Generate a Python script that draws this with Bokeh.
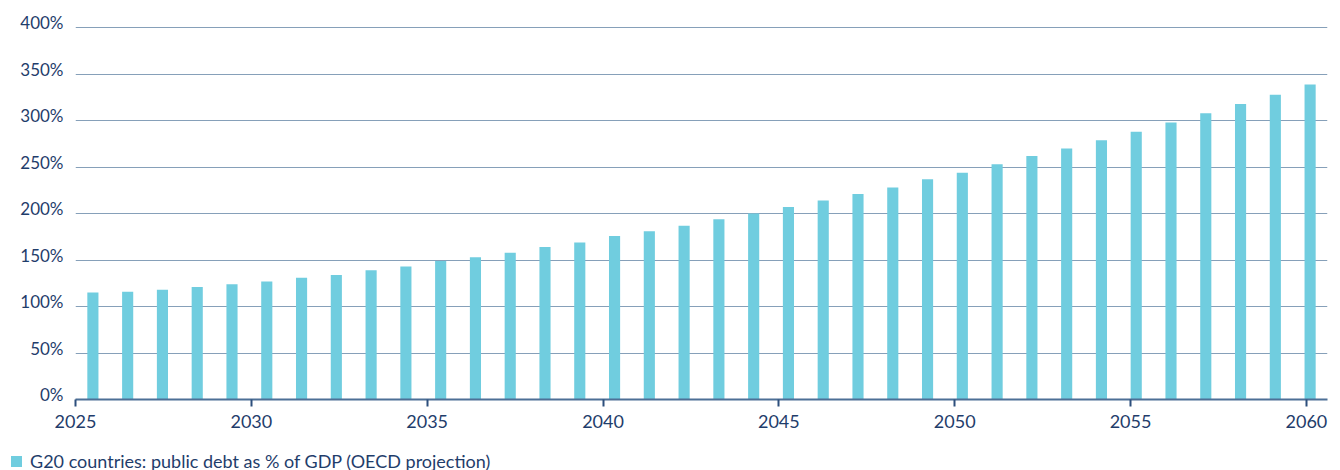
from bokeh.plotting import figure
from bokeh.layouts import column
from bokeh.models import (Range1d, LinearAxis, FixedTicker, Grid, Div,
                          PrintfTickFormatter, ColumnDataSource)
from bokeh.embed import file_html
from bokeh.resources import INLINE

years = list(range(2025, 2061))
debt = [115, 116, 118, 121, 124, 127, 131, 134, 139, 143, 149, 153, 158, 164, 169, 176,
        181, 187, 194, 200, 207, 214, 221, 228, 237, 244, 253, 262, 270, 279, 288, 298,
        308, 318, 328, 339]
y_ticks = [0, 50, 100, 150, 200, 250, 300, 350, 400]
x_ticks = [2025, 2030, 2035, 2040, 2045, 2050, 2055, 2060]
series_name = "G20 countries: public debt as % of GDP (OECD projection)"

NAVY = "#1f3d6b"
BAR = "#70cddf"
FONT = "Lato"

# bars sit in equal category slots (one slot per year)
slot = [i + 0.5 for i in range(len(years))]
src = ColumnDataSource(dict(slot=slot, year=years, debt=debt))

p = figure(width=1340, height=442, output_backend="svg", toolbar_location=None,
           x_range=Range1d(0, len(years)),
           y_range=Range1d(0, 411),
           x_axis_location=None, y_axis_location=None,
           min_border_left=75, min_border_right=13, min_border_top=17, min_border_bottom=43)
p.outline_line_color = None
p.background_fill_color = "white"
p.border_fill_color = "white"
for g in p.grid:
    g.grid_line_color = None

grid = Grid(dimension=1, ticker=FixedTicker(ticks=y_ticks),
            grid_line_color="#86a0b9", grid_line_width=1.2)
p.add_layout(grid)

r = p.vbar(x="slot", top="debt", width=0.32, source=src, fill_color=BAR, line_color=None,
           legend_label=series_name)
p.legend.visible = False

# label axes
p.extra_y_ranges = {"ylab": Range1d(-5.4, 411 - 5.4)}
yax = LinearAxis(y_range_name="ylab", ticker=FixedTicker(ticks=y_ticks),
                 formatter=PrintfTickFormatter(format="%d%%"))
yax.axis_line_color = None
yax.major_tick_line_color = None
yax.minor_tick_line_color = None
yax.major_tick_out = 0
yax.major_tick_in = 0
yax.major_label_standoff = 12
yax.major_label_text_font = FONT
yax.major_label_text_font_size = "17px"
yax.major_label_text_color = NAVY
p.add_layout(yax, "left")

p.extra_x_ranges = {"yr": Range1d(2025, 2060.6)}
xax = LinearAxis(x_range_name="yr", ticker=FixedTicker(ticks=x_ticks),
                 formatter=PrintfTickFormatter(format="%d"))
xax.axis_line_color = "#4d6f96"
xax.axis_line_width = 2
xax.major_tick_line_color = "#2d4f7c"
xax.major_tick_line_width = 2
xax.major_tick_out = 7
xax.major_tick_in = 0
xax.minor_tick_line_color = None
xax.major_label_standoff = 8
xax.major_label_text_font = FONT
xax.major_label_text_font_size = "18px"
xax.major_label_text_color = NAVY
p.add_layout(xax, "below")

# legend strip
legend_html = (
    '<div style="display:flex;align-items:center;padding-top:4px;padding-left:6px;'
    'font-family:Lato;font-size:18px;line-height:20px;color:%s;white-space:nowrap;">'
    '<span style="display:inline-block;width:11px;height:11px;background:%s;'
    'margin-right:8px;"></span><span>%s</span></div>' % (NAVY, BAR, series_name)
)
lg = Div(text=legend_html, width=1340, height=28)

layout = column(p, lg, spacing=0)
open("out.html", "w").write(file_html(layout, INLINE))
